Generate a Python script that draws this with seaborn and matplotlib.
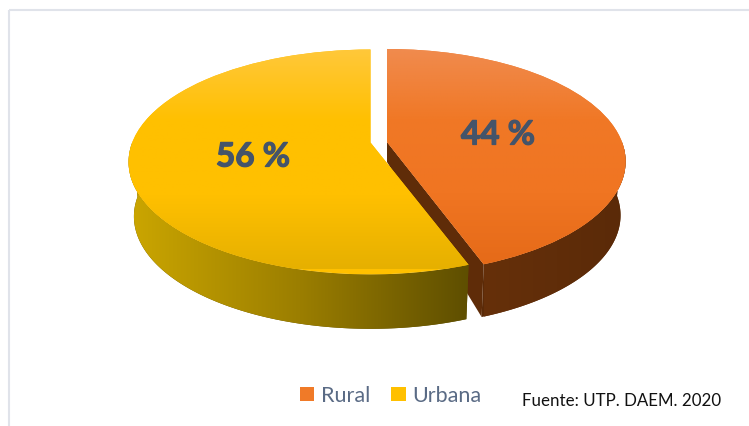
import numpy as np
import matplotlib
matplotlib.use("Agg")
import matplotlib.pyplot as plt
import matplotlib.patheffects as pe
from matplotlib.colors import LinearSegmentedColormap
from matplotlib.lines import Line2D
from matplotlib.patches import Polygon
from matplotlib.transforms import Transform
import seaborn as sns

categories = ["Rural", "Urbana"]
values = [44.4, 55.6]
slice_colors = ["#F07A28", "#FFC000"]
source_note = "Fuente: UTP. DAEM. 2020"

sns.set_theme(style="white")
plt.rcParams["font.family"] = ["Lato", "DejaVu Sans"]
W, H = 749, 427


class Perspective(Transform):
    """Map the flat pie disc to the tilted view, in pixel coordinates."""
    input_dims = output_dims = 2

    def __init__(self, ox, oy, d=238.3, k=109.1, c=0.173):
        super().__init__()
        self.p = (ox, oy, d, k, c)

    def transform_non_affine(self, xy):
        ox, oy, d, k, c = self.p
        xy = np.asarray(xy, float)
        w = 1 + c * xy[:, 1]
        return np.column_stack([ox + d * xy[:, 0] / w, oy - k * xy[:, 1] / w])


fig = plt.figure(figsize=(W / 100, H / 100), dpi=100)
ax = fig.add_axes([0, 0, 1, 1])
wedges, _ = ax.pie(values, colors=slice_colors, startangle=90, counterclock=False,
                   radius=1, center=(0, 0), wedgeprops=dict(linewidth=0))
ax.set_aspect("auto")
ax.set_xlim(0, W)
ax.set_ylim(H, 0)
ax.axis("off")

for xs, ys in [((9, 9), (427, 11)), ((9, 749), (11, 11))]:
    ax.add_line(Line2D(xs, ys, color="#E0E3EA", lw=1.5, zorder=0, solid_capstyle="butt"))

rural_view = Perspective(387, 143, d=235)
urban_view = Perspective(370.5, 143.5)
rural_floor = Perspective(387, 197, d=230, k=108)
urban_floor = Perspective(370.5, 198, d=233, k=109)


def arc(view, t1, t2, n=160):
    t = np.radians(np.linspace(t1, t2, n))
    return view.transform_non_affine(np.column_stack([np.cos(t), np.sin(t)]))


def gradient(stops, clip, box, horizontal=False, z=1):
    cmap = LinearSegmentedColormap.from_list("g", stops)
    g = np.linspace(0, 1, 256)
    g = g[None, :] if horizontal else g[:, None]
    im = ax.imshow(g, cmap=cmap, extent=box, origin="upper", aspect="auto",
                   zorder=z, interpolation="bilinear")
    im.set_clip_path(clip)
    return im


def side(top, floor, t1, t2, stops, box, z):
    pts = np.vstack([arc(top, t1, t2), arc(floor, t2, t1)])
    poly = Polygon(pts, closed=True, fc=stops[-1], ec="none", zorder=z)
    ax.add_patch(poly)
    gradient(stops, poly, box, horizontal=True, z=z + 0.1)


r, u = wedges
# Rural: outer wall, cut wall, top face
side(rural_view, rural_floor, r.theta1, 0, ["#66300A", "#5A2A08"], (484, 630, 330, 150), 1)
end = arc(rural_view, r.theta1, r.theta1, 1)[0]
end_floor = arc(rural_floor, r.theta1, r.theta1, 1)[0]
ax.add_patch(Polygon([(387, 143), end, end_floor, (387, 163)], closed=True,
                     fc="#5F2C08", ec="none", zorder=1.5))
r.set_transform(rural_view + ax.transData)
r.set_zorder(2)
gradient(["#F08C50", "#F07826", "#F07522", "#E56A18"], r, (380, 632, 268, 46), z=2.1)

# Urbana: outer wall and top face
side(urban_view, urban_floor, -180, u.theta2,
     ["#CBA600", "#9B7E00", "#5E4E00"], (130, 470, 335, 170), 3)
u.set_transform(urban_view + ax.transData)
u.set_zorder(4)
gradient(["#FFC83C", "#FFC000", "#FFC000", "#E6B000"], u, (125, 475, 270, 48), z=4.1)

label_color = "#44546A"
for pos, v in zip([(498, 136), (253, 158)], values):
    ax.text(*pos, f"{v:.0f} %", color=label_color, fontsize=24, fontweight="bold",
            ha="center", va="center", zorder=6,
            path_effects=[pe.withStroke(linewidth=0.9, foreground=label_color)])

leg = ax.legend(wedges, categories, ncol=2, loc="center", frameon=False,
                bbox_to_anchor=(390.5 / W, 1 - 396.5 / H), bbox_transform=ax.transAxes,
                fontsize=15.5, labelcolor="#5A6B85", handlelength=0.66, handleheight=0.66,
                handletextpad=0.3, columnspacing=1.0)
ax.text(621.5, 401, source_note, color="#111111", fontsize=12.2, ha="center", va="center", zorder=6)

fig.savefig("out.png", dpi=100, facecolor="white")
